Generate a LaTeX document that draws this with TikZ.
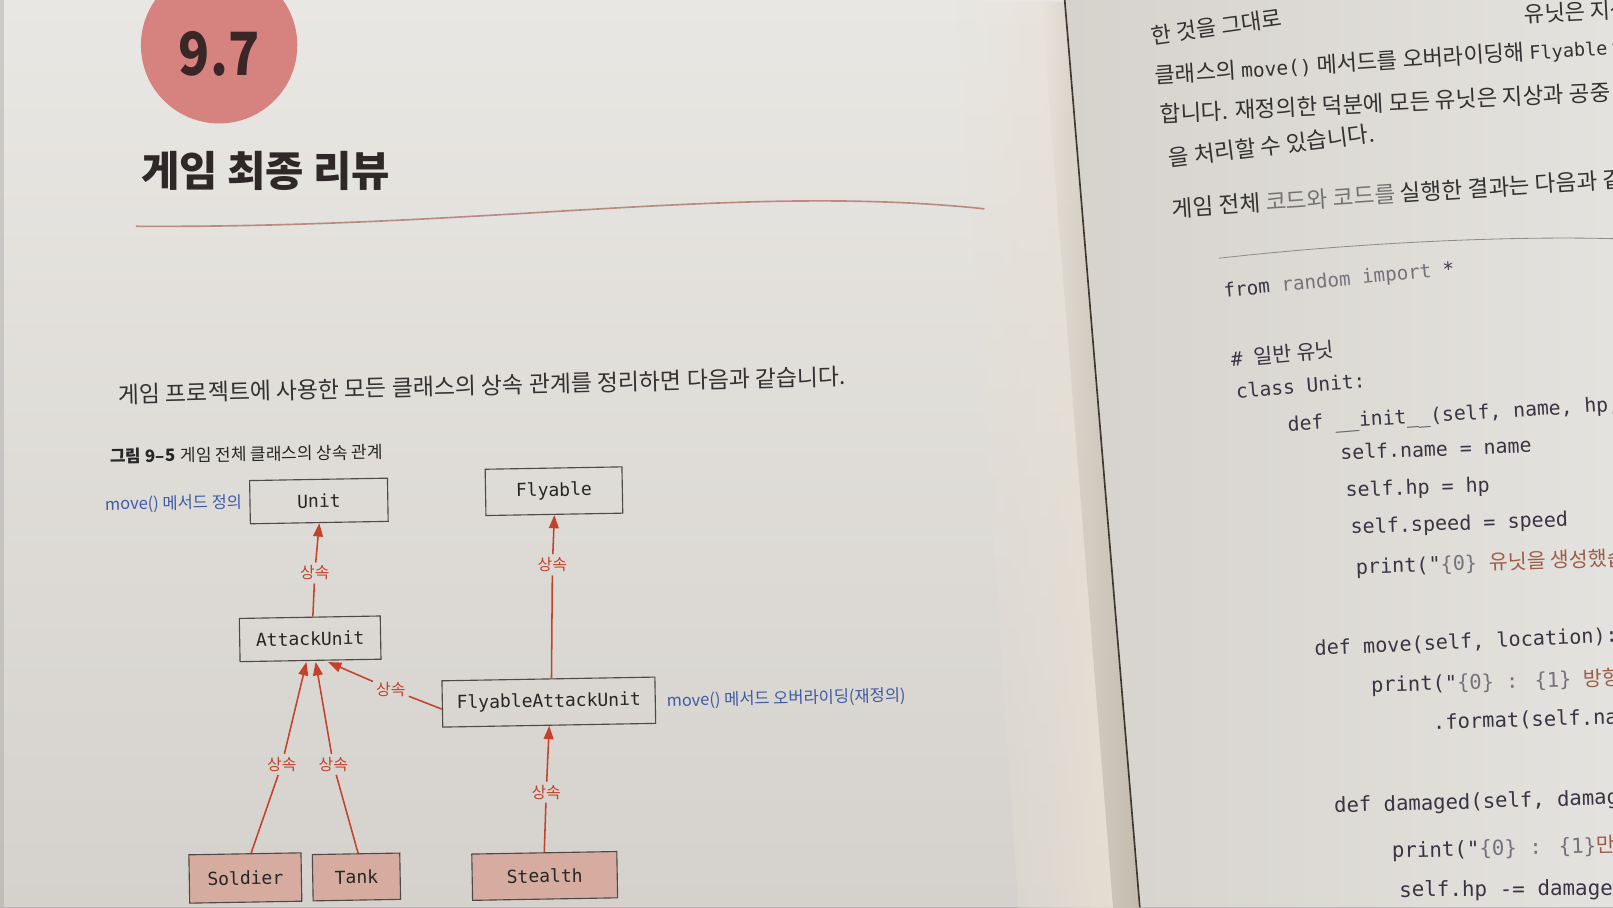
\documentclass[tikz,border=0pt]{standalone}
\usepackage{fontspec}
\setmainfont{Noto Sans CJK KR}
\newfontfamily\kr{Noto Sans CJK KR}
\newfontfamily\mono{DejaVu Sans Mono}
\usetikzlibrary{arrows.meta,calc,fadings}

\definecolor{pagetop}{HTML}{E9E7E3}
\definecolor{pagebot}{HTML}{D5D2CD}
\definecolor{cream}{HTML}{E7E0D3}
\definecolor{foldshade}{HTML}{A59D90}
\definecolor{foldline}{HTML}{3E372E}
\definecolor{rpL}{HTML}{D6D3CD}
\definecolor{rpR}{HTML}{E4E2DE}
\definecolor{badge}{HTML}{D6827E}
\definecolor{badgeink}{HTML}{3A2626}
\definecolor{titleink}{HTML}{2E2828}
\definecolor{bodyink}{HTML}{333131}
\definecolor{rulec}{HTML}{B98A80}
\definecolor{noteblue}{HTML}{3D5AA6}
\definecolor{inhred}{HTML}{C4412B}
\definecolor{boxline}{HTML}{4E4A48}
\definecolor{subfill}{HTML}{D6ACA0}
\definecolor{codeink}{HTML}{3A3343}
\definecolor{codegray}{HTML}{77717C}
\definecolor{strink}{HTML}{9C5E48}

\tikzfading[name=fadeinright, left color=transparent!100, right color=transparent!0]

\tikzset{
  classbox/.style={draw=boxline, line width=1.1pt, rotate=1,
    font=\mono\fontsize{17.5}{20}\selectfont, text=black!85, inner sep=0pt},
  subbox/.style={classbox, fill=subfill},
  inh/.style={draw=inhred, line width=1.5pt},
  inharrow/.style={inh, -{Triangle[length=13pt,width=9.5pt]}},
  lbl/.style={text=inhred, font=\kr\fontsize{15.5}{17}\selectfont, inner sep=3pt},
  note/.style={text=noteblue, font=\kr\fontsize{16}{18}\selectfont, anchor=base west, inner sep=0pt},
  body/.style={text=bodyink, anchor=base west, inner sep=0pt},
  codeline/.style={text=codeink, anchor=base west, inner sep=0pt},
}

\newcommand\codesize[1]{\mono\fontsize{#1}{#1}\selectfont}

\begin{document}
\begin{tikzpicture}[x=1pt,y=-1pt]
\useasboundingbox (0,0) rectangle (1568,882);
\clip (0,0) rectangle (1568,882);

% left page with a warm strip running into the gutter
\fill[top color=pagetop, bottom color=pagebot] (0,0) -- (1035,0) -- (1108,882) -- (0,882) -- cycle;
\fill[cream, path fading=fadeinright] (930,0) -- (1035,0) -- (1108,882) -- (990,882) -- cycle;
\fill[foldshade, path fading=fadeinright, opacity=0.55] (1012,0) -- (1035,0) -- (1108,882) -- (1082,882) -- cycle;
\fill[black!40, opacity=0.35] (0,0) rectangle (4,882);

% right page and the fold
\fill[left color=rpL, right color=rpR] (1035,0) -- (1568,0) -- (1568,882) -- (1108,882) -- cycle;
\draw[foldline, line width=1.6pt] (1035,0) -- (1108,882);

% section badge and heading
\fill[badge] (213,44) circle (76);
\node[text=badgeink, font=\bfseries\fontsize{58}{60}\selectfont, xscale=0.86, transform shape] (badgetxt) at (213,52) {9.7};
\node[text=titleink, font=\bfseries\fontsize{40.5}{42}\selectfont, anchor=base west, inner sep=0pt] (title) at (137,181) {게임 최종 리뷰};
\draw[rulec, line width=1.6pt] (132,220) .. controls (480,222) and (720,178) .. (957,203);

% lead sentence and figure caption
\node[body, rotate=1.45, font=\fontsize{22.3}{26}\selectfont] (para) at (115,392)
  {게임 프로젝트에 사용한 모든 클래스의 상속 관계를 정리하면 다음과 같습니다.};
\node[body, rotate=1, font=\fontsize{16.5}{19}\selectfont, text=black!85] (caption) at (107,450)
  {\textbf{그림 9–5}\hspace{5pt}게임 전체 클래스의 상속 관계};

% class boxes
\node[classbox, minimum width=134pt, minimum height=42pt] (unit) at (310,487) {Unit};
\node[classbox, minimum width=133pt, minimum height=45pt] (fly) at (538.5,477.5) {Flyable};
\node[classbox, minimum width=137pt, minimum height=42pt] (au) at (301.5,621) {AttackUnit};
\node[classbox, minimum width=207pt, minimum height=45pt] (fau) at (533.5,682.5) {FlyableAttackUnit};
\node[subbox, minimum width=109pt, minimum height=47pt] (soldier) at (238.5,853.5) {Soldier};
\node[subbox, minimum width=85pt, minimum height=45pt] (tank) at (346.5,852.5) {Tank};
\node[subbox, minimum width=141pt, minimum height=45pt] (stealth) at (529.5,851.5) {Stealth};

% side notes
\node[note, rotate=1] (n1) at (102,496) {move() 메서드 정의};
\node[note, rotate=1.4] (n2) at (648,687) {move() 메서드 오버라이딩(재정의)};

% inheritance connectors, each broken by its label
\node[lbl] (l1) at (306,557) {상속};
\draw[inh] ($(au.north)+(3,0)$) -- (l1);
\draw[inharrow] (l1) -- (unit.south);

\node[lbl] (l2) at (537,549) {상속};
\draw[inh] ($(fau.north)+(3,0)$) -- (l2);
\draw[inharrow] (l2) -- (fly.south);

\node[lbl] (l3) at (380,670) {상속};
\draw[inh] ($(fau.west)+(0,5)$) -- (l3);
\draw[inharrow] (l3) -- ($(au.south)+(17,1)$);

\node[lbl] (l4) at (274,743) {상속};
\draw[inh] ($(soldier.north)+(6,0)$) -- (l4);
\draw[inharrow] (l4) -- ($(au.south)+(-4,1)$);

\node[lbl] (l5) at (324,743) {상속};
\draw[inh] ($(tank.north)+(2,0)$) -- (l5);
\draw[inharrow] (l5) -- ($(au.south)+(5,1)$);

\node[lbl] (l6) at (531,770) {상속};
\draw[inh] (stealth.north) -- (l6);
\draw[inharrow] (l6) -- (fau.south);

% right page: running text
\node[body, rotate=8, font=\fontsize{21.5}{24}\selectfont] (r1a) at (1120,43) {한 것을 그대로};
\node[body, rotate=3, font=\fontsize{21.5}{24}\selectfont] (r1b) at (1482,22) {유닛은 지상이};
\node[body, rotate=3.6, font=\fontsize{21.5}{24}\selectfont] (r2) at (1123,81)
  {클래스의 {\codesize{19}move()} 메서드를 오버라이딩해 {\codesize{18}Flyable} 클래스};
\node[body, rotate=2.8, font=\fontsize{21.8}{24}\selectfont] (r3) at (1128,119)
  {합니다. 재정의한 덕분에 모든 유닛은 지상과 공중};
\node[body, rotate=7, font=\fontsize{21.8}{24}\selectfont] (r4) at (1137,162)
  {을 처리할 수 있습니다.};
\node[body, rotate=3.8, font=\fontsize{22}{24}\selectfont] (r5) at (1140,211)
  {게임 전체 {\color{black!55}코드와 코드를} 실행한 결과는 다음과 같};
\draw[black!45, line width=0.8pt] (1185,251) .. controls (1300,238) and (1450,229) .. (1568,232);

% right page: listing
\node[codeline, rotate=5.5, font=\codesize{18.7}] (c1) at (1190,289)
  {from {\color{codegray}random import} *};
\node[codeline, rotate=5, font=\codesize{18.8}] (c2) at (1197,356)
  {\# {\kr\fontsize{20}{20}\selectfont 일반 유닛}};
\node[codeline, rotate=4.5, font=\codesize{19}] (c3) at (1202,387) {class Unit:};
\node[codeline, rotate=3.5, font=\codesize{19.2}] (c4) at (1252,419)
  {def \_\_init\_\_(self, name, hp, speed):};
\node[codeline, rotate=2.2, font=\codesize{19.3}] (c5) at (1303,447) {self.name = name};
\node[codeline, rotate=2, font=\codesize{19.4}] (c6) at (1308,483) {self.hp = hp};
\node[codeline, rotate=2, font=\codesize{19.5}] (c7) at (1313,519) {self.speed = speed};
\node[codeline, rotate=1.8, font=\codesize{19.6}] (c8) at (1318,558)
  {print("{\color{codegray}\{0\}} {\color{strink}\kr\fontsize{20}{20}\selectfont 유닛을 생성했습니다.}};
\node[codeline, rotate=2.5, font=\codesize{19.6}] (c9) at (1278,637) {def move(self, location):};
\node[codeline, rotate=1.7, font=\codesize{19.8}] (c10) at (1333,673)
  {print("{\color{codegray}\{0\} : \{1\}} {\color{strink}\kr\fontsize{20}{20}\selectfont 방향으로}};
\node[codeline, rotate=1.6, font=\codesize{19.9}] (c11) at (1393,709) {.format(self.name, location)};
\node[codeline, rotate=1.7, font=\codesize{20}] (c12) at (1297,790) {def damaged(self, damage):};
\node[codeline, rotate=1.4, font=\codesize{20.2}] (c13) at (1353,834)
  {print("{\color{codegray}\{0\} : \{1\}}{\color{strink}\kr\fontsize{20}{20}\selectfont 만큼}};
\node[codeline, rotate=0.5, font=\codesize{20.3}] (c14) at (1360,872) {self.hp -= damage};
\end{tikzpicture}
\end{document}
